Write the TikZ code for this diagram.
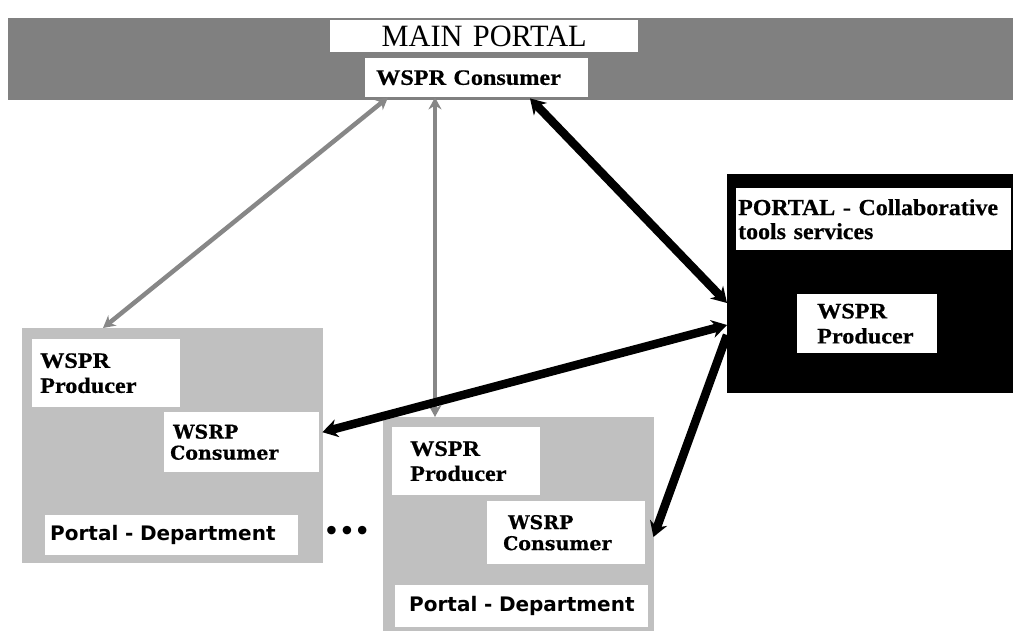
\documentclass[tikz,border=0pt]{standalone}
\usepackage{fontspec}
\usetikzlibrary{arrows.meta}
\newfontfamily\serW[FakeStretch=1.1,FakeBold=0.6]{Liberation Serif}
\newfontfamily\serM[FakeStretch=0.98]{Liberation Serif}
\newfontfamily\serC[FakeStretch=1.04,FakeBold=0.5]{Liberation Serif}
\newfontfamily\slabf[FakeBold=0.4]{DejaVu Serif}
\newfontfamily\sansD{DejaVu Sans}
\definecolor{bandgray}{HTML}{808080}
\definecolor{boxgray}{HTML}{C0C0C0}
\definecolor{arrgray}{HTML}{878787}
\tikzset{
  wbox/.style={fill=white, draw=none, inner ysep=0pt, anchor=north west, align=left},
  area/.style={draw=none, inner sep=0pt, anchor=north west},
  wsprtxt/.style={font=\serW\bfseries\fontsize{22}{25}\selectfont},
  wsrptxt/.style={font=\slabf\bfseries\fontsize{19}{21}\selectfont},
  depttxt/.style={font=\sansD\bfseries\fontsize{20}{22}\selectfont},
  garrow/.style={draw=arrgray, line width=4.5pt, {Stealth[length=12pt,width=13pt]}-{Stealth[length=12pt,width=13pt]}},
  barrow/.style={draw=black, line width=8.5pt, {Stealth[length=15pt,width=18pt]}-{Stealth[length=15pt,width=18pt]}},
  barrowone/.style={draw=black, line width=8.5pt, -{Stealth[length=15pt,width=18pt]}},
}
\begin{document}
\begin{tikzpicture}[x=1pt,y=-1pt]
\useasboundingbox (0,0) rectangle (1013,631);
% top band
\node[area, fill=bandgray, minimum width=1005pt, minimum height=82pt] (band) at (8,18) {};
\node[wbox, minimum width=308pt, minimum height=32pt, inner xsep=0pt, align=center, text width=308pt,
      font=\serM\fontsize{31}{32}\selectfont] (mainportal) at (330,20) {MAIN PORTAL};
\node[wbox, wsprtxt, minimum height=39pt, inner xsep=11pt, text width=201pt] (wsprcons) at (365,58) {WSPR Consumer};
% collaborative portal
\node[area, fill=black, minimum width=286pt, minimum height=219pt] (collab) at (727,174) {};
\node[wbox, font=\serC\bfseries\fontsize{23}{24}\selectfont, minimum height=62pt, inner xsep=2pt, text width=271pt] (collabtitle) at (736,188) {PORTAL - Collaborative\\tools services};
\node[wbox, wsprtxt, minimum height=59pt, inner xsep=20pt, text width=100pt] (prodC) at (797,294) {WSPR\\Producer};
% department 1
\node[area, fill=boxgray, minimum width=301pt, minimum height=235pt] (dept1) at (22,328) {};
\node[wbox, wsprtxt, minimum height=68pt, inner xsep=8pt, text width=132pt] (prod1) at (32,339) {WSPR\\Producer};
\node[wbox, wsrptxt, minimum height=60pt, inner xsep=6pt, text width=143pt] (cons1) at (164,412) {\hspace*{3pt}WSRP\\Consumer};
\node[wbox, depttxt, minimum height=40pt, inner xsep=5pt, text width=243pt] (pd1) at (45,515) {\mbox{Portal - Department}};
\node[inner sep=0pt, font=\sansD\bfseries\fontsize{24}{24}\selectfont] (dots) at (347,533) {•••};
% department 2
\node[area, fill=boxgray, minimum width=271pt, minimum height=220pt] (dept2) at (383,417) {};
\node[wbox, wsprtxt, minimum height=68pt, inner xsep=18pt, text width=112pt] (prod2) at (392,427) {WSPR\\Producer};
\node[wbox, wsrptxt, minimum height=63pt, inner xsep=16pt, text width=126pt] (cons2) at (487,501) {\hspace*{5pt}WSRP\\Consumer};
\node[wbox, depttxt, minimum height=42pt, inner xsep=14pt, text width=225pt] (pd2) at (395,585) {\mbox{Portal - Department}};
% connectors
\draw[garrow] ([xshift=23pt]wsprcons.south west) -- ([xshift=81pt]dept1.north west);
\draw[garrow] ([xshift=70pt]wsprcons.south west) -- ([xshift=52pt]dept2.north west);
\draw[barrow] ([xshift=165pt,yshift=-1pt]wsprcons.south west) -- ([yshift=-129pt]collab.north west);
\draw[barrow] ([xshift=3pt,yshift=10pt]cons1.east) -- ([yshift=-151pt]collab.north west);
\draw[barrowone] ([yshift=-161pt]collab.north west) -- ([xshift=8pt,yshift=-36pt]cons2.north east);
\end{tikzpicture}
\end{document}
